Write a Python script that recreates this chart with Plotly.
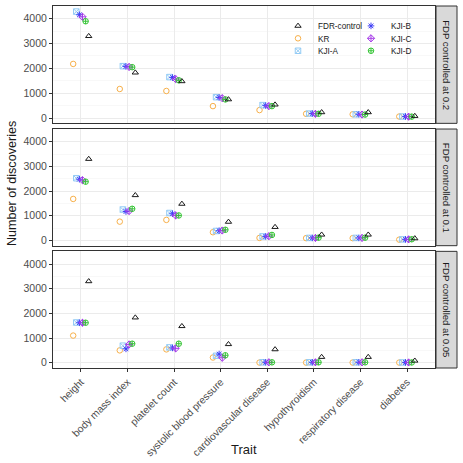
import plotly.graph_objects as go
from plotly.subplots import make_subplots

categories = ["height", "body mass index", "platelet count", "systolic blood pressure",
              "cardiovascular disease", "hypothyroidism", "respiratory disease", "diabetes"]
panels = ["FDP controlled at 0.2", "FDP controlled at 0.1", "FDP controlled at 0.05"]
methods = ["KR", "KJI-A", "KJI-B", "KJI-C", "KJI-D", "FDR-control"]
legend_order = ["FDR-control", "KR", "KJI-A", "KJI-B", "KJI-C", "KJI-D"]
y_ticks = [0, 1000, 2000, 3000, 4000]

fdr_control = [3300, 1830, 1480, 750, 540, 230, 230, 80]

kr_02 = [2180, 1170, 1090, 480, 320, 170, 150, 60]
kjia_02 = [4290, 2090, 1650, 840, 520, 180, 150, 60]
kjib_02 = [4160, 2080, 1630, 830, 500, 180, 150, 60]
kjic_02 = [4080, 2060, 1570, 800, 480, 170, 140, 55]
kjid_02 = [3900, 2050, 1520, 750, 480, 170, 140, 55]

kr_01 = [1680, 760, 830, 330, 100, 90, 90, 30]
kjia_01 = [2520, 1250, 1110, 380, 160, 100, 100, 40]
kjib_01 = [2480, 1170, 1080, 390, 160, 100, 100, 40]
kjic_01 = [2440, 1190, 1010, 400, 170, 100, 100, 40]
kjid_01 = [2380, 1280, 1010, 430, 220, 110, 110, 45]

kr_005 = [1100, 500, 540, 210, 5, 5, 5, 5]
kjia_005 = [1630, 690, 620, 280, 15, 15, 15, 10]
kjib_005 = [1620, 560, 600, 350, 15, 15, 15, 10]
kjic_005 = [1620, 740, 580, 200, 15, 15, 15, 10]
kjid_005 = [1620, 770, 770, 300, 15, 15, 15, 10]

data = [
    {"KR": kr_02, "KJI-A": kjia_02, "KJI-B": kjib_02, "KJI-C": kjic_02, "KJI-D": kjid_02, "FDR-control": fdr_control},
    {"KR": kr_01, "KJI-A": kjia_01, "KJI-B": kjib_01, "KJI-C": kjic_01, "KJI-D": kjid_01, "FDR-control": fdr_control},
    {"KR": kr_005, "KJI-A": kjia_005, "KJI-B": kjib_005, "KJI-C": kjic_005, "KJI-D": kjid_005, "FDR-control": fdr_control},
]

style = {
    "KR": dict(symbol="circle-open", color="#F7B04A"),
    "KJI-A": dict(symbol="square-x-open", color="#92CBF5"),
    "KJI-B": dict(symbol="asterisk-open", color="#3D3DF5"),
    "KJI-C": dict(symbol="diamond-cross-open", color="#A63CE8"),
    "KJI-D": dict(symbol="circle-cross-open", color="#33C433"),
    "FDR-control": dict(symbol="triangle-up-open", color="#1A1A1A"),
}

W, H = 463, 463
L, R, T, B = 53, 435, 5, 369  # plot area in px
FONT = "Liberation Sans"


def px_x(p):
    return (p - L) / (R - L)


def px_y(p):
    return (B - p) / (B - T)


panel_px = [(5, 123), (128.7, 246), (251.7, 369)]

fig = make_subplots(rows=3, cols=1, shared_xaxes=True, vertical_spacing=0.02)

# one legend per entry, laid out like the ggplot 2-column key
legend_pos = {
    "FDR-control": (298, 25), "KR": (298, 37.5), "KJI-A": (298, 50),
    "KJI-B": (371, 25), "KJI-C": (371, 37.5), "KJI-D": (371, 50),
}
legend_names = {m: ("legend" if i == 0 else f"legend{i+1}") for i, m in enumerate(legend_order)}

for r, d in enumerate(data):
    for m in methods:
        fig.add_trace(go.Scatter(
            x=categories, y=d[m], mode="markers", name=m,
            marker=dict(symbol=style[m]["symbol"], size=5.5, color=style[m]["color"],
                        line=dict(width=1, color=style[m]["color"])),
            showlegend=(r == 0), legend=legend_names[m],
        ), row=r + 1, col=1)

layout_legends = {}
for m, (lx, ly) in legend_pos.items():
    layout_legends[legend_names[m]] = dict(
        x=px_x(lx - 20), y=px_y(ly), xanchor="left", yanchor="middle",
        bgcolor="rgba(0,0,0,0)", borderwidth=0,
        font=dict(family=FONT, size=8.2, color="#1A1A1A"),
        itemwidth=30,
    )

fig.update_layout(
    width=W, height=H,
    margin=dict(l=L, r=W - R, t=T, b=H - B),
    paper_bgcolor="white", plot_bgcolor="white",
    scattermode="group", scattergap=0.6,
    font=dict(family=FONT, color="#4D4D4D"),
    hovermode=False,
    **layout_legends,
)

axis_common = dict(showline=True, mirror=True, linecolor="#333333", linewidth=1,
                   ticks="outside", ticklen=3, tickcolor="#333333", tickwidth=1,
                   gridcolor="#EBEBEB", gridwidth=1, zeroline=False)

for i, (top, bot) in enumerate(panel_px):
    yname = "yaxis" if i == 0 else f"yaxis{i+1}"
    xname = "xaxis" if i == 0 else f"xaxis{i+1}"
    fig.layout[yname].update(domain=[px_y(bot), px_y(top)], range=[-215, 4515],
                             tickvals=y_ticks,
                             tickfont=dict(family=FONT, size=10.5, color="#4D4D4D"),
                             minor=dict(showgrid=True, gridcolor="#F3F3F3", gridwidth=0.6,
                                        tickvals=[500, 1500, 2500, 3500, 4500]),
                             **axis_common)
    fig.layout[xname].update(type="category", range=[-0.6, 7.6], categoryorder="array",
                             categoryarray=categories, **axis_common)
    if i < 2:
        fig.layout[xname].update(showticklabels=False, ticks="")
    else:
        fig.layout[xname].update(tickangle=-45,
                                 tickfont=dict(family=FONT, size=10.3, color="#4D4D4D"))

# white legend background covering gridlines
fig.add_shape(type="rect", xref="paper", yref="paper",
              x0=px_x(283), x1=px_x(434), y0=px_y(58), y1=px_y(9),
              fillcolor="white", line=dict(width=0), layer="between")

# facet strips
for (top, bot), lab in zip(panel_px, panels):
    fig.add_shape(type="rect", xref="paper", yref="paper",
                  x0=px_x(436), x1=px_x(457), y0=px_y(bot), y1=px_y(top),
                  fillcolor="#D9D9D9", line=dict(color="#333333", width=1), layer="above")
    fig.add_annotation(x=px_x(446.5), y=px_y((top + bot) / 2), xref="paper", yref="paper",
                       xanchor="center", yanchor="middle",
                       text=lab, textangle=90, showarrow=False,
                       font=dict(family=FONT, size=9.6, color="#1A1A1A"))

fig.add_annotation(x=px_x(12), y=px_y(184), xref="paper", yref="paper",
                   xanchor="center", yanchor="middle",
                   text="Number of discoveries", textangle=-90, showarrow=False,
                   font=dict(family=FONT, size=12.6, color="#1A1A1A"))
fig.add_annotation(x=px_x(244), y=px_y(451), xref="paper", yref="paper",
                   xanchor="center", yanchor="middle",
                   text="Trait", showarrow=False,
                   font=dict(family=FONT, size=13, color="#1A1A1A"))

fig.write_html("out.html", config={"displayModeBar": False, "staticPlot": True},
               post_script="document.body.style.margin='0px';document.body.style.overflow='hidden';")
